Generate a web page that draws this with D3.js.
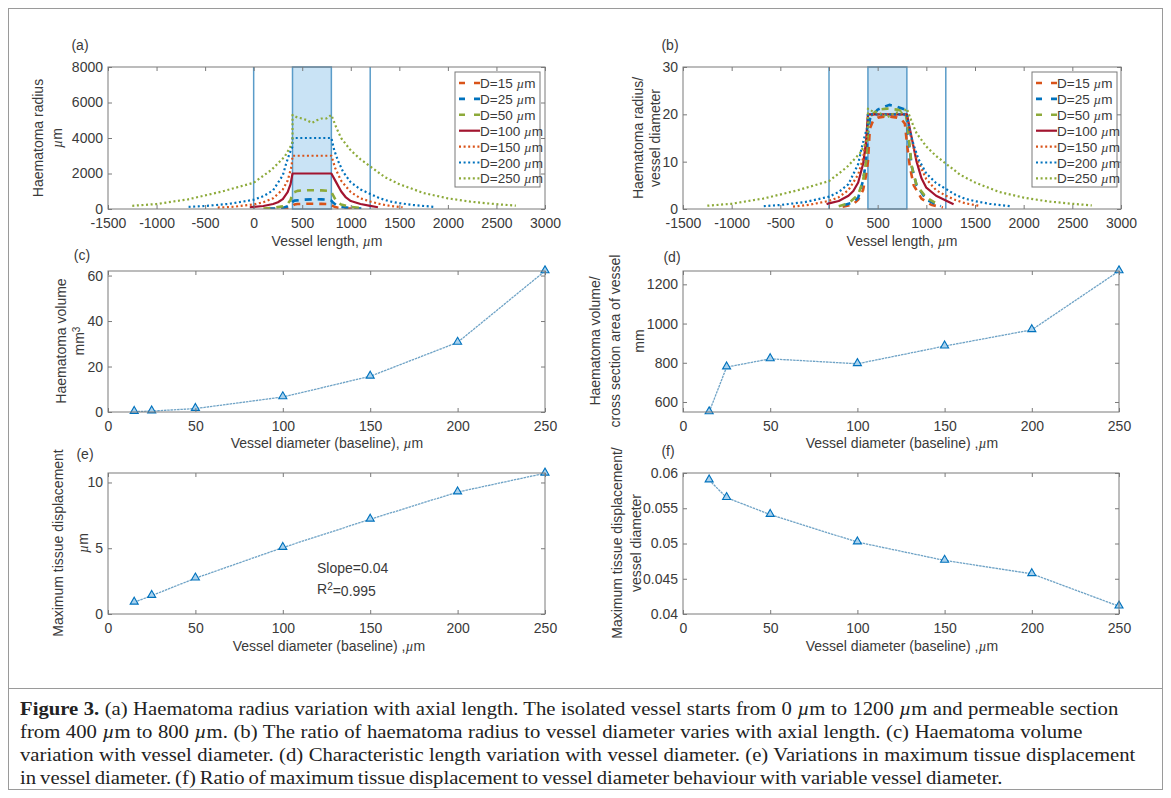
<!DOCTYPE html>
<html><head><meta charset="utf-8">
<script src="https://cdn.jsdelivr.net/npm/d3@7"></script>
<style>body{margin:0;background:#fff} svg{display:block}</style>
</head><body>
<svg id="fig" width="1171" height="798"></svg>
<script>
// ---------------- DATA ----------------
const diameters = [15, 25, 50, 100, 150, 200, 250];
const legendLabels = ["D=15", "D=25", "D=50", "D=100", "D=150", "D=200", "D=250"];
const lengthTicks = [-1500, -1000, -500, 0, 500, 1000, 1500, 2000, 2500, 3000];
const radiusTicks = [0, 2000, 4000, 6000, 8000];
const ratioTicks = [0, 10, 20, 30];
const isolatedVessel = [0, 1200];
const permeableSection = [400, 800];

// (a) haematoma radius [vessel length, radius]
const radius_D15 = [[150,8],[250,15],[300,30],[350,60],[380,120],[400,160],[420,250],[450,280],[500,290],[600,295],[700,290],[750,285],[780,270],[800,210],[830,130],[870,70],[950,30],[1050,12],[1100,8]];
const radius_D25 = [[150,20],[250,35],[300,60],[350,150],[380,250],[400,400],[420,470],[500,520],[620,550],[700,540],[780,520],[800,470],[820,350],[850,220],[900,120],[1000,50],[1100,25],[1150,15]];
const radius_D50 = [[100,30],[200,60],[300,150],[350,300],[380,500],[400,900],[450,1020],[500,1050],[600,1060],[700,1050],[780,1020],[800,950],[820,750],[850,450],[900,250],[1000,120],[1100,60]];
const radius_D100 = [[-40,100],[0,120],[100,170],[200,280],[250,380],[300,560],[350,950],[380,1400],[400,2000],[800,2000],[850,1500],[900,1000],[950,650],[1000,450],[1100,280],[1200,180],[1280,100]];
const radius_D150 = [[-370,80],[-200,130],[0,260],[100,380],[200,600],[300,1100],[350,1600],[390,2400],[400,3000],[800,3000],[840,2300],[900,1600],[1000,950],[1100,600],[1200,420],[1300,280],[1400,180],[1534,100]];
const radius_D200 = [[-670,120],[-500,170],[-250,290],[0,520],[100,720],[200,1050],[300,1900],[337,2600],[371,3150],[398,3500],[400,4000],[800,4000],[830,3300],[870,2700],[920,2100],[1000,1500],[1100,1100],[1200,850],[1300,600],[1400,430],[1500,330],[1650,220],[1860,120]];
const radius_D250 = [[-1250,180],[-1000,280],[-676,545],[-332,975],[0,1480],[182,2200],[319,2950],[388,3600],[400,3800],[400,5300],[450,5150],[500,5100],[550,5000],[600,4850],[650,5000],[700,5100],[750,5100],[800,5300],[850,4600],[900,4000],[1000,3300],[1100,2800],[1200,2400],[1350,1800],[1500,1400],[1750,900],[2000,600],[2250,400],[2500,270],[2700,190]];

// (b) ratio haematoma radius / vessel diameter
const ratio_D15 = [[140,0.5],[250,1.0],[300,2],[350,4],[380,7],[400,10],[420,17],[450,18.5],[500,19.3],[600,19.6],[700,19.3],[750,18.8],[780,18],[800,14],[830,9],[870,5],[950,2.2],[1050,0.9],[1170,0.3]];
const ratio_D25 = [[150,0.8],[250,1.4],[300,2.4],[350,6],[380,10],[400,16],[420,19],[500,21],[620,22],[700,21.6],[780,21],[800,19],[820,14],[850,9],[900,5],[1000,2],[1100,1],[1150,0.6]];
const ratio_D50 = [[100,0.6],[200,1.2],[300,3],[350,6],[380,10],[400,18],[420,19.5],[500,21],[600,21.2],[700,21],[780,20.5],[800,19],[820,15],[850,9],[900,5],[1000,2.4],[1100,1.2]];
const ratio_D100 = [[-25,1],[0,1.2],[100,1.7],[200,2.8],[250,3.8],[300,5.6],[350,9.5],[380,14],[400,20],[800,20],[850,15],[900,10],[950,6.5],[1000,4.5],[1100,2.8],[1200,1.8],[1280,1]];
const ratio_D150 = [[-370,0.5],[-200,0.9],[0,1.7],[100,2.5],[200,4],[300,7.3],[350,10.7],[390,16],[400,20],[800,20],[840,15.3],[900,10.7],[1000,6.3],[1100,4],[1200,2.8],[1300,1.9],[1400,1.2],[1534,0.7]];
const ratio_D200 = [[-670,0.6],[-500,0.85],[-250,1.45],[0,2.6],[100,3.6],[200,5.25],[300,9.5],[337,13],[371,15.75],[398,17.5],[400,20],[800,20],[830,16.5],[870,13.5],[920,10.5],[1000,7.5],[1100,5.5],[1200,4.25],[1300,3],[1400,2.15],[1500,1.65],[1650,1.1],[1860,0.6]];
const ratio_D250 = [[-1250,0.7],[-1000,1.1],[-676,2.2],[-332,3.9],[0,5.9],[182,8.8],[319,11.8],[388,14.4],[400,15.2],[400,21.2],[450,20.6],[500,20.4],[550,20],[600,19.4],[650,20],[700,20.4],[750,20.4],[800,21.2],[850,18.4],[900,16],[1000,13.2],[1100,11.2],[1200,9.6],[1350,7.2],[1500,5.6],[1750,3.6],[2000,2.4],[2250,1.6],[2500,1.1],[2700,0.76]];

// (c)-(f)
const vesselDiameter = [15, 25, 50, 100, 150, 200, 250];
const diameterTicks = [0, 50, 100, 150, 200, 250];
const haematomaVolume = [0.2, 0.4, 1.5, 6.6, 15.7, 30.6, 62];
const volumeTicks = [0, 20, 40, 60];
const volumePerArea = [549, 778, 820, 795, 885, 968, 1268];
const volumePerAreaTicks = [600, 800, 1000, 1200];
const maxDisplacement = [0.89, 1.4, 2.72, 5.05, 7.2, 9.27, 10.7];
const displacementTicks = [0, 5, 10];
const displacementRatio = [0.059, 0.0565, 0.0541, 0.0502, 0.0476, 0.0457, 0.0411];
const ratioDispTicks = [0.04, 0.045, 0.05, 0.055, 0.06];

// ---------------- STYLES ----------------
const C_ORANGE = "#D95319", C_BLUE = "#0072BD", C_GREEN = "#8DAA3A", C_RED = "#A2142F";
const seriesStyle = [
  {color: C_ORANGE, dash: "7,6", w: 2.6},
  {color: C_BLUE, dash: "7,6", w: 2.6},
  {color: C_GREEN, dash: "7,6", w: 2.6},
  {color: C_RED, dash: null, w: 2.2},
  {color: C_ORANGE, dash: "2,2.6", w: 2.2},
  {color: C_BLUE, dash: "2,2.6", w: 2.2},
  {color: C_GREEN, dash: "2,2.6", w: 2.2}
];
const FONT = "'Liberation Sans', Arial, Helvetica, sans-serif";
const TXT = "#3a3a3a";
const AXC = "#7a7a7a";
const fmtPlain = d => String(d);

const svg = d3.select("#fig");
svg.append("rect").attr("width", 1171).attr("height", 798).attr("fill", "#fff");

// figure frame
svg.append("rect").attr("x", 8.5).attr("y", 8.5).attr("width", 1154).attr("height", 781)
  .attr("fill", "none").attr("stroke", "#9a9a9a").attr("stroke-width", 1);
svg.append("line").attr("x1", 8.5).attr("x2", 1162.5).attr("y1", 688.5).attr("y2", 688.5)
  .attr("stroke", "#9a9a9a").attr("stroke-width", 1);

function makePanel(box, xDom, yDom) {
  const x = d3.scaleLinear().domain(xDom).range([box.l, box.r]);
  const y = d3.scaleLinear().domain(yDom).range([box.b, box.t]);
  const g = svg.append("g");
  const id = "clip" + Math.round(box.l) + "_" + Math.round(box.t);
  svg.append("clipPath").attr("id", id).append("rect")
    .attr("x", box.l).attr("y", box.t).attr("width", box.r - box.l).attr("height", box.b - box.t);
  return {x, y, g, box, clip: "url(#" + id + ")"};
}

function frame(p, xTicks, yTicks, yFmt) {
  const {x, y, g, box} = p;
  const xa = g.append("g").attr("transform", `translate(0,${box.b})`)
    .call(d3.axisBottom(x).tickValues(xTicks).tickSizeInner(-4).tickSizeOuter(0).tickPadding(9).tickFormat(fmtPlain));
  const xt = g.append("g").attr("transform", `translate(0,${box.t})`)
    .call(d3.axisTop(x).tickValues(xTicks).tickSizeInner(-4).tickSizeOuter(0).tickFormat(""));
  const ya = g.append("g").attr("transform", `translate(${box.l},0)`)
    .call(d3.axisLeft(y).tickValues(yTicks).tickSizeInner(-4).tickSizeOuter(0).tickPadding(5).tickFormat(yFmt || fmtPlain));
  const yr = g.append("g").attr("transform", `translate(${box.r},0)`)
    .call(d3.axisRight(y).tickValues(yTicks).tickSizeInner(-4).tickSizeOuter(0).tickFormat(""));
  [xa, xt, ya, yr].forEach(a => {
    a.select(".domain").remove();
    a.selectAll("line").attr("stroke", AXC);
    a.selectAll("text").attr("fill", TXT).style("font-family", FONT).style("font-size", "14px");
  });
  g.append("rect").attr("x", box.l).attr("y", box.t).attr("width", box.r - box.l).attr("height", box.b - box.t)
    .attr("fill", "none").attr("stroke", AXC).attr("stroke-width", 1);
}

function label(x, y, parts, rotate, anchor) {
  const t = svg.append("text").attr("fill", TXT).style("font-family", FONT).style("font-size", "14px")
    .attr("text-anchor", anchor || "middle");
  if (rotate) t.attr("transform", `translate(${x},${y}) rotate(-90)`);
  else t.attr("x", x).attr("y", y);
  parts.forEach(pt => {
    const s = t.append("tspan").text(pt.t);
    if (pt.it) s.style("font-style", "italic").style("font-family", "'Liberation Serif', 'Times New Roman', serif");
    if (pt.sup) s.attr("dy", "-0.45em").style("font-size", "10px");
    if (pt.unsup) s.attr("dy", "0.45em");
  });
  return t;
}

function drawRegions(p) {
  const {x, y, g, box} = p;
  g.append("rect").attr("x", x(permeableSection[0])).attr("y", box.t)
    .attr("width", x(permeableSection[1]) - x(permeableSection[0])).attr("height", box.b - box.t)
    .attr("fill", "#c9e3f5").attr("stroke", "#5a9cc9").attr("stroke-width", 1.5);
  isolatedVessel.forEach(v => {
    g.append("line").attr("x1", x(v)).attr("x2", x(v)).attr("y1", box.t).attr("y2", box.b)
      .attr("stroke", "#5a9cc9").attr("stroke-width", 1.5);
  });
}

function drawSeries(p, list) {
  const line = d3.line().x(d => p.x(d[0])).y(d => p.y(d[1]));
  const gg = p.g.append("g").attr("clip-path", p.clip);
  list.forEach((data, i) => {
    const st = seriesStyle[i];
    gg.append("path").attr("d", line(data)).attr("fill", "none")
      .attr("stroke", st.color).attr("stroke-width", st.w)
      .attr("stroke-dasharray", st.dash).attr("stroke-linejoin", "round");
  });
}

function drawLegend(p, lx, ly) {
  const g = p.g.append("g");
  g.append("rect").attr("x", lx).attr("y", ly).attr("width", 85).attr("height", 115)
    .attr("fill", "#fff").attr("stroke", AXC).attr("stroke-width", 1);
  legendLabels.forEach((lab, i) => {
    const st = seriesStyle[i];
    const yy = ly + 11 + i * 15.9;
    g.append("line").attr("x1", lx + 4).attr("x2", lx + 25).attr("y1", yy).attr("y2", yy)
      .attr("stroke", st.color).attr("stroke-width", st.w).attr("stroke-dasharray", st.dash ? (st.dash === "7,6" ? "6,9,6" : st.dash) : null);
    const t = g.append("text").attr("x", lx + 25).attr("y", yy + 5).attr("fill", TXT)
      .style("font-family", FONT).style("font-size", "13.5px");
    t.append("tspan").text(lab + " ");
    t.append("tspan").text("µ").style("font-style", "italic").style("font-family", "'Liberation Serif', serif");
    t.append("tspan").text("m");
  });
}

function drawMarkersLine(p, xs, ys) {
  const pts = xs.map((v, i) => [v, ys[i]]);
  const line = d3.line().x(d => p.x(d[0])).y(d => p.y(d[1]));
  p.g.append("path").attr("d", line(pts)).attr("fill", "none")
    .attr("stroke", "#6fa3c6").attr("stroke-width", 1.3).attr("stroke-dasharray", "2.5,0.8");
  const sym = d3.symbol().type(d3.symbolTriangle).size(28);
  p.g.selectAll(null).data(pts).enter().append("path")
    .attr("d", sym).attr("transform", d => `translate(${p.x(d[0])},${p.y(d[1]) - 0.5})`)
    .attr("fill", "#a9d2ee").attr("stroke", "#0072BD").attr("stroke-width", 1.1);
}

// ---------------- PANEL (a) ----------------
const pa = makePanel({l: 108, r: 545, t: 67, b: 209}, [-1500, 3000], [0, 8000]);
drawRegions(pa);
drawSeries(pa, [radius_D15, radius_D25, radius_D50, radius_D100, radius_D150, radius_D200, radius_D250]);
drawLegend(pa, 455, 72);
frame(pa, lengthTicks, radiusTicks);
label(80, 50, [{t: "(a)"}], false);
label(43, 138, [{t: "Haematoma radius"}], true);
label(62, 138, [{t: "µ", it: true}, {t: "m"}], true);
label(327, 246, [{t: "Vessel length, "}, {t: "µ", it: true}, {t: "m"}], false);

// ---------------- PANEL (b) ----------------
const pb = makePanel({l: 683, r: 1121, t: 67, b: 209}, [-1500, 3000], [0, 30]);
drawRegions(pb);
drawSeries(pb, [ratio_D15, ratio_D25, ratio_D50, ratio_D100, ratio_D150, ratio_D200, ratio_D250]);
drawLegend(pb, 1032, 72);
frame(pb, lengthTicks, ratioTicks);
label(670, 50, [{t: "(b)"}], false);
label(643, 138, [{t: "Haematoma radius/"}], true);
label(660, 138, [{t: "vessel diameter"}], true);
label(902, 246, [{t: "Vessel length, "}, {t: "µ", it: true}, {t: "m"}], false);

// ---------------- PANEL (c) ----------------
const pc = makePanel({l: 108, r: 545, t: 271, b: 412}, [0, 250], [0, 62]);
drawMarkersLine(pc, vesselDiameter, haematomaVolume);
frame(pc, diameterTicks, volumeTicks);
label(82, 260, [{t: "(c)"}], false);
label(66, 341, [{t: "Haematoma volume"}], true);
label(84, 341, [{t: "mm"}, {t: "3", sup: true}], true);
label(327, 448, [{t: "Vessel diameter (baseline), "}, {t: "µ", it: true}, {t: "m"}], false);

// ---------------- PANEL (d) ----------------
const pd = makePanel({l: 683, r: 1119, t: 271, b: 412}, [0, 250], [549, 1268]);
drawMarkersLine(pd, vesselDiameter, volumePerArea);
frame(pd, diameterTicks, volumePerAreaTicks);
label(672, 262, [{t: "(d)"}], false);
label(600, 341, [{t: "Haematoma volume/"}], true);
label(620, 341, [{t: "cross section area of vessel"}], true);
label(644, 341, [{t: "mm"}], true);
label(902, 448, [{t: "Vessel diameter (baseline) ,"}, {t: "µ", it: true}, {t: "m"}], false);

// ---------------- PANEL (e) ----------------
const pe = makePanel({l: 108, r: 545, t: 473, b: 614}, [0, 250], [0, 10.72]);
drawMarkersLine(pe, vesselDiameter, maxDisplacement);
frame(pe, diameterTicks, displacementTicks);
label(85, 459, [{t: "(e)"}], false);
label(63, 543, [{t: "Maximum tissue displacement"}], true);
label(88, 543, [{t: "µ", it: true}, {t: "m"}], true);
label(317, 573, [{t: "Slope=0.04"}], false, "start");
label(317, 594, [{t: "R"}, {t: "2", sup: true}, {t: "=0.995", unsup: true}], false, "start");
label(329, 651, [{t: "Vessel diameter (baseline) ,"}, {t: "µ", it: true}, {t: "m"}], false);

// ---------------- PANEL (f) ----------------
const pf = makePanel({l: 683, r: 1119, t: 473, b: 614}, [0, 250], [0.04, 0.06]);
drawMarkersLine(pf, vesselDiameter, displacementRatio);
frame(pf, diameterTicks, ratioDispTicks, d => String(+d.toFixed(3)));
label(668, 456, [{t: "(f)"}], false);
label(622, 543, [{t: "Maximum tissue displacement/"}], true);
label(641, 543, [{t: "vessel diameter"}], true);
label(902, 651, [{t: "Vessel diameter (baseline) ,"}, {t: "µ", it: true}, {t: "m"}], false);

// ---------------- CAPTION ----------------
const SERIF = "'Liberation Serif', 'Times New Roman', serif";
const captionLines = [
  [{t: "Figure 3.", b: true}, {t: " (a) Haematoma radius variation with axial length. The isolated vessel starts from 0 "}, {t: "µ", it: true}, {t: "m to 1200 "}, {t: "µ", it: true}, {t: "m and permeable section"}],
  [{t: "from 400 "}, {t: "µ", it: true}, {t: "m to 800 "}, {t: "µ", it: true}, {t: "m. (b) The ratio of haematoma radius to vessel diameter varies with axial length. (c) Haematoma volume"}],
  [{t: "variation with vessel diameter. (d) Characteristic length variation with vessel diameter. (e) Variations in maximum tissue displacement"}],
  [{t: "in vessel diameter. (f) Ratio of maximum tissue displacement to vessel diameter behaviour with variable vessel diameter."}]
];
const captionWidths = [1099, 1063, 1116, 983];
const capNodes = captionLines.map((parts, i) => {
  const g = svg.append("g");
  const t = g.append("text").attr("x", 0).attr("y", 0).attr("fill", "#222")
    .style("font-family", SERIF).style("font-size", "18px");
  parts.forEach(pt => {
    const s = t.append("tspan").text(pt.t);
    if (pt.b) s.style("font-weight", "bold");
    if (pt.it) s.style("font-style", "italic");
  });
  return {g, t, y: 715 + i * 23, w: captionWidths[i], text: parts.map(p => p.t).join("")};
});
// common horizontal condensing factor, then small per-line word spacing adjustment
const natW = capNodes.map(c => c.t.node().getComputedTextLength());
const sx = d3.sum(captionWidths) / d3.sum(natW);
capNodes.forEach((c, i) => {
  c.g.attr("transform", `translate(20,${c.y}) scale(${sx},1)`);
  const spaces = (c.text.match(/ /g) || []).length;
  const extra = Math.max(-1.5, (c.w / sx - natW[i]) / spaces);
  c.t.style("word-spacing", extra + "px");
});
</script>
</body></html>
